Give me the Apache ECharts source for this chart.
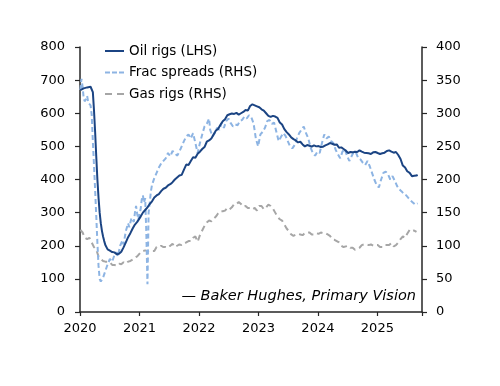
<!DOCTYPE html>
<html>
<head>
<meta charset="utf-8">
<script src="https://cdn.jsdelivr.net/npm/echarts@6/dist/echarts.min.js"></script>
<style>html,body{margin:0;padding:0;background:#fff}#c{width:500px;height:386px}</style>
</head>
<body>
<div id="c"></div>
<script>
const yearTicks = [2020, 2021, 2022, 2023, 2024, 2025];
const seriesNames = ['Oil rigs (LHS)', 'Frac spreads (RHS)', 'Gas rigs (RHS)'];
const sourceNote = '\u2014 Baker Hughes, Primary Vision';

const oilRigs = [
['2020-01-03',670],['2020-01-24',675],['2020-02-14',678],['2020-03-06',680],['2020-03-13',682],['2020-03-20',664],
['2020-03-27',610],['2020-04-03',545],['2020-04-10',470],['2020-04-17',400],['2020-04-24',345],['2020-05-01',300],
['2020-05-08',268],['2020-05-15',245],['2020-05-22',228],['2020-05-29',214],['2020-06-05',202],['2020-06-19',189],
['2020-07-03',185],['2020-07-17',181],['2020-07-31',180],['2020-08-14',174],['2020-08-21',180],['2020-08-28',176],
['2020-09-11',182],['2020-09-25',195],['2020-10-09',210],['2020-10-23',226],['2020-11-06',238],['2020-11-20',252],
['2020-12-04',264],['2020-12-18',272],['2021-01-08',288],['2021-01-22',300],['2021-02-05',308],['2021-02-19',316],
['2021-03-05',326],['2021-03-19',334],['2021-04-02',346],['2021-04-16',352],['2021-04-30',356],['2021-05-14',365],
['2021-05-28',372],['2021-06-11',375],['2021-06-25',382],['2021-07-09',386],['2021-07-23',392],['2021-08-06',400],
['2021-08-20',406],['2021-09-03',412],['2021-09-17',414],['2021-10-01',430],['2021-10-15',445],['2021-10-29',444],
['2021-11-12',456],['2021-11-26',467],['2021-12-10',466],['2021-12-24',478],['2022-01-07',484],['2022-01-21',492],
['2022-02-04',498],['2022-02-18',514],['2022-03-04',518],['2022-03-18',524],['2022-04-01',536],['2022-04-15',548],
['2022-04-29',553],['2022-05-13',565],['2022-05-27',576],['2022-06-10',582],['2022-06-24',594],['2022-07-08',597],
['2022-07-22',599],['2022-08-05',598],['2022-08-19',601],['2022-09-02',596],['2022-09-16',600],['2022-09-30',604],
['2022-10-14',610],['2022-10-28',608],['2022-11-11',622],['2022-11-25',627],['2022-12-09',624],['2022-12-23',621],
['2023-01-06',618],['2023-01-20',612],['2023-02-03',608],['2023-02-17',600],['2023-03-03',592],['2023-03-17',589],
['2023-03-31',592],['2023-04-14',590],['2023-04-28',586],['2023-05-12',572],['2023-05-26',566],['2023-06-09',552],
['2023-06-23',543],['2023-07-07',536],['2023-07-21',527],['2023-08-04',522],['2023-08-18',518],['2023-09-01',512],
['2023-09-15',514],['2023-09-29',506],['2023-10-13',500],['2023-10-27',504],['2023-11-10',502],['2023-11-24',499],
['2023-12-08',503],['2023-12-22',500],['2024-01-05',501],['2024-01-19',498],['2024-02-02',499],['2024-02-16',503],
['2024-03-01',506],['2024-03-15',510],['2024-03-29',508],['2024-04-12',505],['2024-04-26',506],['2024-05-10',496],
['2024-05-24',497],['2024-06-07',492],['2024-06-21',487],['2024-07-05',480],['2024-07-19',483],['2024-08-02',482],
['2024-08-16',484],['2024-08-30',483],['2024-09-13',488],['2024-09-27',484],['2024-10-11',481],['2024-10-25',480],
['2024-11-08',479],['2024-11-22',477],['2024-12-06',482],['2024-12-20',483],['2025-01-03',480],['2025-01-17',477],
['2025-01-31',479],['2025-02-14',481],['2025-02-28',486],['2025-03-14',488],['2025-03-28',484],['2025-04-11',481],
['2025-04-25',483],['2025-05-09',474],['2025-05-23',462],['2025-06-06',442],['2025-06-20',436],['2025-07-03',425],
['2025-07-18',420],['2025-08-01',410],['2025-08-15',411],['2025-08-29',412],['2025-09-05',414]
];

const fracSpreads = [
['2020-01-03',335],['2020-01-10',352],['2020-01-17',340],['2020-01-24',322],['2020-01-31',318],['2020-02-14',326],
['2020-02-21',316],['2020-03-06',312],['2020-03-13',298],['2020-03-20',258],['2020-03-27',222],['2020-04-03',185],
['2020-04-10',145],['2020-04-17',105],['2020-04-24',70],['2020-05-01',50],['2020-05-08',46],['2020-05-15',45],
['2020-05-22',52],['2020-06-05',62],['2020-06-19',72],['2020-07-03',80],['2020-07-17',76],['2020-07-31',86],
['2020-08-14',90],['2020-08-21',84],['2020-09-04',100],['2020-09-18',108],['2020-09-25',102],['2020-10-09',122],
['2020-10-23',134],['2020-10-30',128],['2020-11-13',142],['2020-11-27',136],['2020-12-04',150],['2020-12-11',160],
['2020-12-18',148],['2020-12-25',140],['2021-01-08',155],['2021-01-15',170],['2021-01-22',176],['2021-01-29',165],
['2021-02-05',172],['2021-02-12',120],['2021-02-19',42],['2021-02-26',150],['2021-03-05',165],['2021-03-12',182],
['2021-03-19',192],['2021-04-02',202],['2021-04-16',210],['2021-04-30',218],['2021-05-14',224],['2021-05-28',228],
['2021-06-11',232],['2021-06-25',240],['2021-07-09',235],['2021-07-23',243],['2021-08-06',240],['2021-08-20',236],
['2021-09-03',242],['2021-09-17',250],['2021-10-01',258],['2021-10-15',265],['2021-10-29',268],['2021-11-12',262],
['2021-11-26',270],['2021-12-10',255],['2021-12-24',240],['2022-01-07',255],['2022-01-21',268],['2022-02-04',280],
['2022-02-18',284],['2022-03-04',292],['2022-03-11',275],['2022-03-25',265],['2022-04-08',270],['2022-04-22',278],
['2022-05-06',275],['2022-05-20',285],['2022-06-03',278],['2022-06-17',288],['2022-07-01',292],['2022-07-15',285],
['2022-07-29',280],['2022-08-12',283],['2022-08-26',282],['2022-09-09',288],['2022-09-23',290],['2022-10-07',295],
['2022-10-21',292],['2022-11-04',297],['2022-11-18',294],['2022-12-02',285],['2022-12-16',262],['2022-12-30',250],
['2023-01-13',268],['2023-01-27',272],['2023-02-10',278],['2023-02-24',288],['2023-03-10',290],['2023-03-24',284],
['2023-04-07',286],['2023-04-21',272],['2023-05-05',258],['2023-05-19',264],['2023-06-02',270],['2023-06-16',266],
['2023-06-30',258],['2023-07-14',250],['2023-07-28',247],['2023-08-11',252],['2023-08-25',262],['2023-09-08',270],
['2023-09-22',275],['2023-10-06',280],['2023-10-20',270],['2023-11-03',262],['2023-11-17',248],['2023-12-01',240],
['2023-12-15',236],['2023-12-29',242],['2024-01-12',240],['2024-01-26',255],['2024-02-09',268],['2024-02-23',262],
['2024-03-08',265],['2024-03-22',258],['2024-04-05',255],['2024-04-19',245],['2024-05-03',238],['2024-05-17',232],
['2024-05-31',242],['2024-06-14',246],['2024-06-28',236],['2024-07-12',228],['2024-07-26',235],['2024-08-09',242],
['2024-08-23',240],['2024-09-06',232],['2024-09-20',230],['2024-10-04',225],['2024-10-18',222],['2024-11-01',228],
['2024-11-15',220],['2024-11-29',210],['2024-12-13',200],['2024-12-27',192],['2025-01-10',188],['2025-01-24',200],
['2025-02-07',210],['2025-02-21',212],['2025-03-07',208],['2025-03-21',200],['2025-04-04',205],['2025-04-18',198],
['2025-05-02',190],['2025-05-16',185],['2025-05-30',182],['2025-06-13',178],['2025-06-27',176],['2025-07-11',172],
['2025-07-25',168],['2025-08-08',165],['2025-08-22',162],['2025-09-05',164]
];

const gasRigs = [
['2020-01-03',124],['2020-01-17',120],['2020-01-31',112],['2020-02-14',110],['2020-02-28',112],['2020-03-13',105],
['2020-03-27',98],['2020-04-10',94],['2020-04-24',84],['2020-05-08',80],['2020-05-22',77],['2020-06-05',76],
['2020-06-19',76],['2020-07-03',75],['2020-07-17',71],['2020-07-31',71],['2020-08-14',70],['2020-08-28',73],
['2020-09-11',72],['2020-09-25',75],['2020-10-09',73],['2020-10-23',76],['2020-11-06',77],['2020-11-20',79],
['2020-12-04',82],['2020-12-18',84],['2021-01-08',90],['2021-01-22',92],['2021-02-05',93],['2021-02-19',92],
['2021-03-05',93],['2021-03-19',92],['2021-04-02',92],['2021-04-16',98],['2021-04-30',98],['2021-05-14',100],
['2021-05-28',98],['2021-06-11',98],['2021-06-25',97],['2021-07-09',100],['2021-07-23',103],['2021-08-06',98],
['2021-08-20',100],['2021-09-03',102],['2021-09-17',101],['2021-10-01',104],['2021-10-15',105],['2021-10-29',107],
['2021-11-12',107],['2021-11-26',112],['2021-12-10',114],['2021-12-24',106],['2022-01-07',116],['2022-01-21',123],
['2022-02-04',130],['2022-02-18',135],['2022-03-04',138],['2022-03-18',137],['2022-04-01',141],['2022-04-15',144],
['2022-04-29',149],['2022-05-13',152],['2022-05-27',152],['2022-06-10',153],['2022-06-24',157],['2022-07-08',155],
['2022-07-22',158],['2022-08-05',163],['2022-08-19',163],['2022-09-02',166],['2022-09-16',163],['2022-09-30',159],
['2022-10-14',160],['2022-10-28',157],['2022-11-11',157],['2022-11-25',155],['2022-12-09',157],['2022-12-23',153],
['2023-01-06',160],['2023-01-20',160],['2023-02-03',155],['2023-02-17',158],['2023-03-03',162],['2023-03-17',160],
['2023-03-31',156],['2023-04-14',150],['2023-04-28',144],['2023-05-12',140],['2023-05-26',138],['2023-06-09',132],
['2023-06-23',126],['2023-07-07',122],['2023-07-21',117],['2023-08-04',115],['2023-08-18',117],['2023-09-01',118],
['2023-09-15',117],['2023-09-29',116],['2023-10-13',119],['2023-10-27',120],['2023-11-10',120],['2023-11-24',117],
['2023-12-08',117],['2023-12-22',119],['2024-01-05',118],['2024-01-19',120],['2024-02-02',119],['2024-02-16',119],
['2024-03-01',117],['2024-03-15',115],['2024-03-29',110],['2024-04-12',109],['2024-04-26',107],['2024-05-10',105],
['2024-05-24',100],['2024-06-07',98],['2024-06-21',99],['2024-07-05',100],['2024-07-19',97],['2024-08-02',97],
['2024-08-16',94],['2024-08-30',95],['2024-09-13',97],['2024-09-27',101],['2024-10-11',102],['2024-10-25',102],
['2024-11-08',101],['2024-11-22',102],['2024-12-06',100],['2024-12-20',101],['2025-01-03',101],['2025-01-17',98],
['2025-01-31',98],['2025-02-14',101],['2025-02-28',101],['2025-03-14',101],['2025-03-28',104],['2025-04-11',99],
['2025-04-25',101],['2025-05-09',105],['2025-05-23',110],['2025-06-06',114],['2025-06-20',112],['2025-07-03',118],
['2025-07-18',124],['2025-08-01',122],['2025-08-15',123],['2025-08-29',121]
];

function toYear(s) {
  const d = new Date(s + 'T00:00:00Z');
  const y = d.getUTCFullYear();
  const a = Date.UTC(y, 0, 1), b = Date.UTC(y + 1, 0, 1);
  return y + (d.getTime() - a) / (b - a);
}
const conv = arr => arr.map(p => [toYear(p[0]), p[1]]);

const FONT = 'DejaVu Sans';
const axisCol = '#262626';
const COL_OIL = '#1b4483', COL_FRAC = '#8db4e3', COL_GAS = '#a6a6a6';
const legendIcons = [
  'path://M0,0H19V2H0Z',
  'path://M0,0H5V2H0Z M7,0H12V2H7Z M14,0H19V2H14Z',
  'path://M0,0H7V2H0Z M12,0H19V2H12Z'
];
const chart = echarts.init(document.getElementById('c'), null, {renderer: 'canvas'});
chart.setOption({
  animation: false,
  backgroundColor: '#fff',
  textStyle: {fontFamily: FONT},
  grid: {left: 80, right: 78, top: 47, bottom: 74, containLabel: false},
  legend: {
    orient: 'vertical', left: 100, top: 38, itemWidth: 19, itemHeight: 2.2, itemGap: 5.5,
    data: seriesNames.map((n, i) => ({name: n, icon: legendIcons[i]})),
    textStyle: {fontFamily: FONT, fontSize: 13.5, color: '#000', lineHeight: 16}
  },
  xAxis: {
    type: 'value', min: 2020, max: 2025.75, interval: 1,
    axisLine: {show: true, onZero: false, lineStyle: {color: axisCol, width: 1.5}},
    axisTick: {show: true, length: 4, lineStyle: {color: axisCol, width: 1.2}},
    splitLine: {show: false},
    axisLabel: {fontFamily: FONT, fontSize: 13, color: '#000', margin: 10,
      formatter: v => yearTicks.includes(v) ? String(v) : ''}
  },
  yAxis: [
    {type: 'value', min: 0, max: 800, interval: 100, position: 'left',
     axisLine: {show: true, lineStyle: {color: axisCol, width: 1.5}},
     axisTick: {show: true, length: 5, lineStyle: {color: axisCol, width: 1.2}},
     splitLine: {show: false},
     axisLabel: {fontFamily: FONT, fontSize: 13, color: '#000', margin: 15}},
    {type: 'value', min: 0, max: 400, interval: 50, position: 'right',
     axisLine: {show: true, lineStyle: {color: axisCol, width: 1.5}},
     axisTick: {show: true, length: 5, lineStyle: {color: axisCol, width: 1.2}},
     splitLine: {show: false},
     axisLabel: {fontFamily: FONT, fontSize: 13, color: '#000', margin: 14}}
  ],
  graphic: [{
    type: 'text', right: 84, top: 289,
    style: {text: sourceNote, font: 'italic 14.5px "DejaVu Sans"', fill: '#000'}
  }],
  series: [
    {name: seriesNames[2], type: 'line', yAxisIndex: 1, data: conv(gasRigs), showSymbol: false, symbol: 'none',
     lineStyle: {color: COL_GAS, width: 2, type: [6, 4]}, itemStyle: {color: COL_GAS}, z: 2},
    {name: seriesNames[1], type: 'line', yAxisIndex: 1, data: conv(fracSpreads), showSymbol: false, symbol: 'none',
     lineStyle: {color: COL_FRAC, width: 2, type: [5, 3]}, itemStyle: {color: COL_FRAC}, z: 3},
    {name: seriesNames[0], type: 'line', yAxisIndex: 0, data: conv(oilRigs), showSymbol: false, symbol: 'none',
     lineStyle: {color: COL_OIL, width: 2}, itemStyle: {color: COL_OIL}, z: 4}
  ]
});
</script>
</body>
</html>
